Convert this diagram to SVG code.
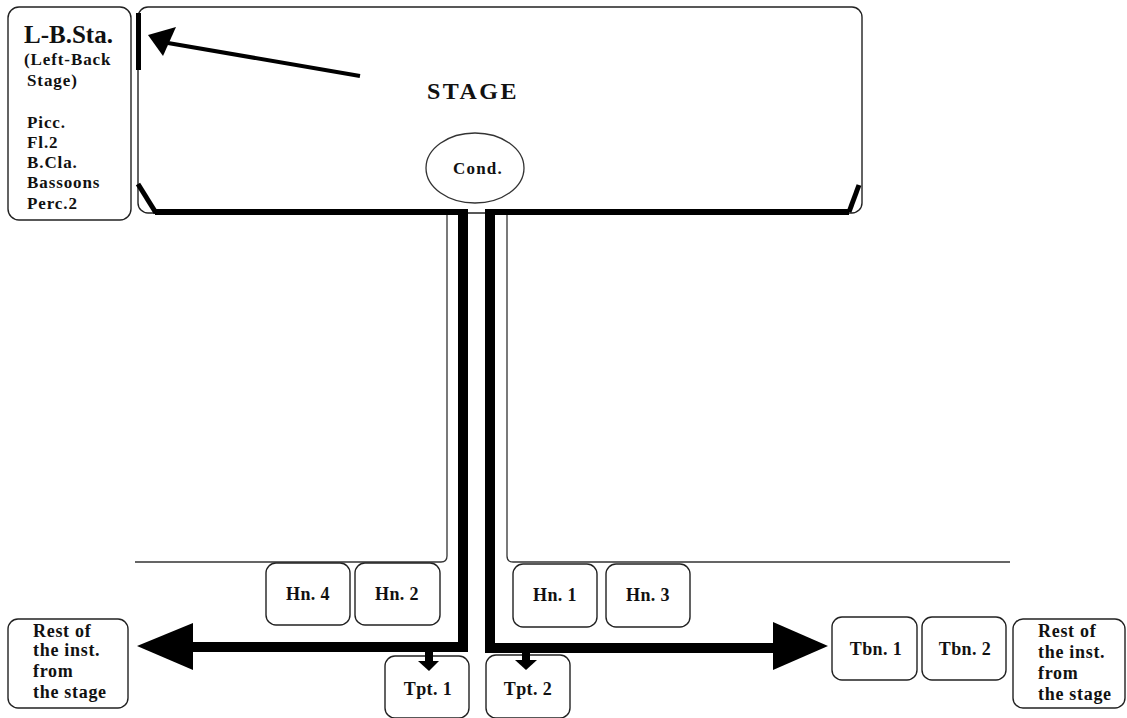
<svg xmlns="http://www.w3.org/2000/svg" width="1127" height="718" viewBox="0 0 1127 718">
  <defs>
    <style>
      .box { fill: #ffffff; stroke: #222; stroke-width: 1.4; }
      .wall { fill: none; stroke: #333; stroke-width: 1.3; }
      .bar { fill: #000; }
      .t { font-family: "Liberation Serif", "Times New Roman", serif; font-weight: bold; fill: #111; }
      .lbl { font-size: 18px; text-anchor: middle; letter-spacing: 0.4px; }
      .rest { font-size: 18px; letter-spacing: 0.7px; }
      .list { font-size: 17px; letter-spacing: 0.9px; }
    </style>
  </defs>
  <rect width="1127" height="718" fill="#ffffff"/>

  <!-- Left-back stage -->
  <g id="left-back-stage">
    <rect class="box" x="8" y="7" width="123" height="213" rx="11"/>
    <text class="t" x="24" y="43" font-size="25">L-B.Sta.</text>
    <text class="t list" x="24" y="65">(Left-Back</text>
    <text class="t list" x="27" y="86">Stage)</text>
    <text class="t list" x="27" y="128">Picc.</text>
    <text class="t list" x="27" y="148">Fl.2</text>
    <text class="t list" x="27" y="168">B.Cla.</text>
    <text class="t list" x="27" y="188">Bassoons</text>
    <text class="t list" x="27" y="209">Perc.2</text>
  </g>

  <!-- Main stage -->
  <g id="stage">
    <rect class="box" x="138" y="7" width="724" height="206" rx="10"/>
    <text class="t" x="473" y="99" font-size="24" text-anchor="middle" letter-spacing="2.5">STAGE</text>
  </g>

  <!-- Conductor -->
  <g id="conductor">
    <ellipse cx="475" cy="168" rx="49" ry="35" fill="#fff" stroke="#333" stroke-width="1.3"/>
    <text class="t" x="478" y="174" font-size="17" text-anchor="middle" letter-spacing="1.2">Cond.</text>
  </g>

  <!-- Corridor walls -->
  <g id="walls">
    <path class="wall" d="M447 215 V556 Q447 562 441 562 H135"/>
    <path class="wall" d="M507 215 V556 Q507 562 513 562 H1010"/>
  </g>

  <!-- Horn players -->
  <g id="hn4"><rect class="box" x="266" y="563" width="84" height="62" rx="10"/><text class="t lbl" x="308" y="600">Hn. 4</text></g>
  <g id="hn2"><rect class="box" x="355" y="563" width="85" height="62" rx="10"/><text class="t lbl" x="397" y="600">Hn. 2</text></g>
  <g id="hn1"><rect class="box" x="513" y="564" width="84" height="63" rx="10"/><text class="t lbl" x="555" y="601">Hn. 1</text></g>
  <g id="hn3"><rect class="box" x="606" y="564" width="84" height="63" rx="10"/><text class="t lbl" x="648" y="601">Hn. 3</text></g>

  <!-- Trumpets -->
  <g id="tpt1"><rect class="box" x="385" y="656" width="84" height="62" rx="10"/><text class="t lbl" x="428" y="695">Tpt. 1</text></g>
  <g id="tpt2"><rect class="box" x="486" y="655" width="84" height="63" rx="10"/><text class="t lbl" x="528" y="695">Tpt. 2</text></g>

  <!-- Trombones -->
  <g id="tbn1"><rect class="box" x="832" y="617" width="85" height="63" rx="10"/><text class="t lbl" x="876" y="655">Tbn. 1</text></g>
  <g id="tbn2"><rect class="box" x="922" y="617" width="84" height="63" rx="10"/><text class="t lbl" x="965" y="655">Tbn. 2</text></g>

  <!-- Rest of the orchestra, both sides -->
  <g id="rest-left">
    <rect class="box" x="8" y="619" width="120" height="89" rx="10"/>
    <text class="t rest" x="33" y="637">Rest of</text>
    <text class="t rest" x="33" y="656">the inst.</text>
    <text class="t rest" x="33" y="677">from</text>
    <text class="t rest" x="33" y="698">the stage</text>
  </g>
  <g id="rest-right">
    <rect class="box" x="1013" y="619" width="112" height="89" rx="10"/>
    <text class="t rest" x="1038" y="637">Rest of</text>
    <text class="t rest" x="1038" y="658">the inst.</text>
    <text class="t rest" x="1038" y="679">from</text>
    <text class="t rest" x="1038" y="700">the stage</text>
  </g>

  <!-- Movement paths and stage markings -->
  <g id="connectors">
    <!-- stage front edge -->
    <rect class="bar" x="155" y="209" width="313" height="6"/>
    <rect class="bar" x="485" y="209" width="364" height="6"/>
    <path d="M138 184 L156 213" stroke="#000" stroke-width="5" fill="none"/>
    <path d="M849 212 L859 185" stroke="#000" stroke-width="5" fill="none"/>
    <rect class="bar" x="136" y="13" width="5" height="57"/>
    <!-- arrow towards left-back stage -->
    <path d="M360 76 L168 43" stroke="#000" stroke-width="4" fill="none"/>
    <polygon class="bar" points="148,35 176,27 163,56"/>
    <!-- left route -->
    <rect class="bar" x="458" y="209" width="10" height="443"/>
    <rect class="bar" x="190" y="642" width="278" height="10"/>
    <polygon class="bar" points="137,646 193,623 193,670"/>
    <!-- right route -->
    <rect class="bar" x="485" y="209" width="10" height="443"/>
    <rect class="bar" x="485" y="643" width="290" height="10"/>
    <polygon class="bar" points="828,646 773,622 773,670"/>
    <!-- drops to the trumpets -->
    <rect class="bar" x="425" y="652" width="8" height="10"/>
    <polygon class="bar" points="418,661 439,661 429,671"/>
    <rect class="bar" x="522" y="652" width="8" height="9"/>
    <polygon class="bar" points="515,660 537,660 526,670"/>
  </g>
</svg>
